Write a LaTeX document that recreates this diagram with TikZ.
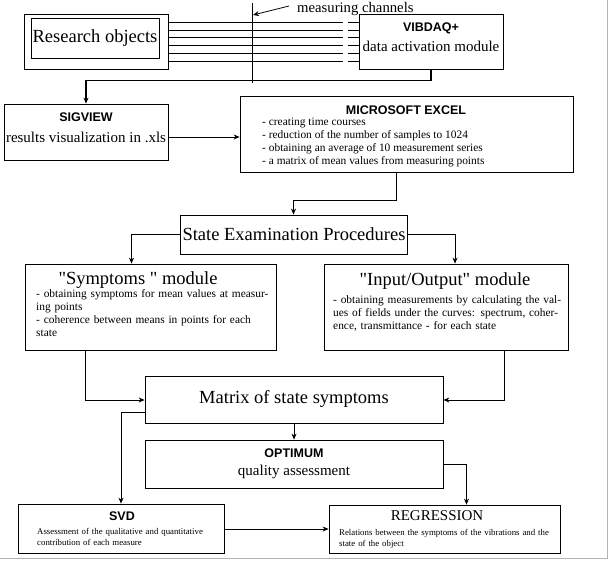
\documentclass[tikz,border=0pt]{standalone}
\usepackage{fontspec}
\setmainfont{Liberation Serif}
\newfontfamily\qf{Liberation Serif}
\newfontfamily\hd{Liberation Sans}
\usetikzlibrary{fit,arrows.meta}
\begin{document}
\begin{tikzpicture}[x=1pt,y=-1pt,
  box/.style={draw,inner sep=0pt,line width=0.8pt},
  conn/.style={line width=0.8pt},
  arr/.style={conn,-{Stealth[length=6pt,width=5pt]}},
  hdr/.style={font=\hd\bfseries\fontsize{12.5}{14}\selectfont},
  big/.style={font=\fontsize{18.5}{21}\selectfont},
  mid/.style={font=\fontsize{15}{17}\selectfont},
  itm/.style={font=\fontsize{11.4}{13}\selectfont,anchor=west,inner sep=0pt},
  sm/.style={font=\fontsize{8.8}{11}\selectfont,anchor=west,inner sep=0pt}]
\useasboundingbox (0,0) rectangle (609,560);
\draw[gray!60,line width=1pt] (0,558) -- (607,558) -- (607,0);
% boxes
\node[box,fit={(24,14)(168,69)}] (ro) {};
\node[box,fit={(31,18)(159,58)}] (roi) {};
\node[big] (rot) at (95,38) {Research objects};
\node[box,fit={(359,14)(503,69)}] (vib) {};
\node[hdr] (vibh) at (431,28) {VIBDAQ+};
\node[mid] (vibt) at (431,46) {data activation module};
\node[box,fit={(4,104)(168,160)}] (sig) {};
\node[hdr] (sigh) at (86,117) {SIGVIEW};
\node[mid] (sigt) at (86,137) {results visualization in .xls};
\node[box,fit={(240,96)(573,172)}] (exc) {};
\node[hdr] (exch) at (406,110) {MICROSOFT EXCEL};
\node[itm] (e1) at (262,123) {- creating time courses};
\node[itm] (e2) at (262,136) {- reduction of the number of samples to 1024};
\node[itm] (e3) at (262,149) {- obtaining an average of 10 measurement series};
\node[itm] (e4) at (262,162) {- a matrix of mean values from measuring points};
\node[box,fit={(180,215)(407,254)}] (sep) {};
\node[big] (sept) at (294,234) {State Examination Procedures};
\node[box,fit={(25,264)(276,350)}] (sym) {};
\node[big] (symt) at (138,280) {{\qf"}Symptoms {\qf"} module};
\node[itm,align=left,text width=238pt] (symi) at (36,313) {- obtaining symptoms for mean values at measuring points\\ - coherence between means in points for each state};
\node[box,fit={(324,264)(568,350)}] (io) {};
\node[big] (iot) at (445,281) {{\qf"}Input/Output{\qf"} module};
\node[itm,align=left,text width=236pt] (ioi) at (333,313) {- obtaining measurements by calculating the values of fields under the curves: spectrum, coherence, transmittance - for each state};
\node[box,fit={(145,376)(443,423)}] (mat) {};
\node[big] (matt) at (294,399) {Matrix of state symptoms};
\node[box,fit={(145,440)(443,488)}] (opt) {};
\node[hdr] (opth) at (294,453) {OPTIMUM};
\node[mid] (optt) at (294,472) {quality assessment};
\node[box,fit={(18,504)(224,553)}] (svd) {};
\node[hdr] (svdh) at (122,516) {SVD};
\node[sm,align=left,text width=176pt] (svdt) at (37,537) {Assessment of the qualitative and quantitative contribution of each measure};
\node[box,fit={(329,505)(560,553)}] (reg) {};
\node[mid] (regt) at (437,516) {REGRESSION};
\node[sm,align=left,text width=222pt] (regt2) at (339,539) {Relations between the symptoms of the vibrations and the state of the object};
% channels
\foreach \yy in {22,30,37,45,53,61}{
  \draw[conn,line width=0.6pt] (ro.east |- 0,\yy) -- (343,\yy);
  \draw[conn,line width=0.6pt] (348,\yy) -- (vib.west |- 0,\yy);}
\coordinate (vl1) at (252,3);
\coordinate (vl2) at (252,83);
\draw[conn] (vl1) -- (vl2);
\coordinate (ca) at (289,6);
\coordinate (cb) at (253,15);
\draw[arr] (ca) -- (cb);
\node[font=\fontsize{14.7}{16}\selectfont,anchor=west,inner sep=0pt] (mc) at (297,9) {measuring channels};
% connectors
\draw[arr,line width=1.6pt] (vib.south) -- ++(0,11) -| (sig.north);
\draw[arr] (sig.east |- sigt) -- (exc.west |- sigt);
\draw[arr] ([xshift=-10pt]exc.south) -- ++(0,28) -| (sep.north);
\draw[arr] (sep.west) -| ([xshift=-19pt]sym.north);
\draw[arr] (sep.east) -| ([xshift=9pt]io.north);
\draw[arr] ([xshift=-65pt]sym.south) |- (mat.west |- 0,400);
\draw[arr] ([xshift=58pt]io.south) |- (mat.east |- 0,400);
\draw[arr] (mat.south) -- (opt.north);
\draw[arr] (mat.west |- 0,412) -| (svd.north);
\draw[arr] (opt.east |- 0,464) -| ([xshift=22pt]reg.north);
\draw[arr] (svd.east |- 0,529) -- (reg.west |- 0,529);
\end{tikzpicture}
\end{document}
